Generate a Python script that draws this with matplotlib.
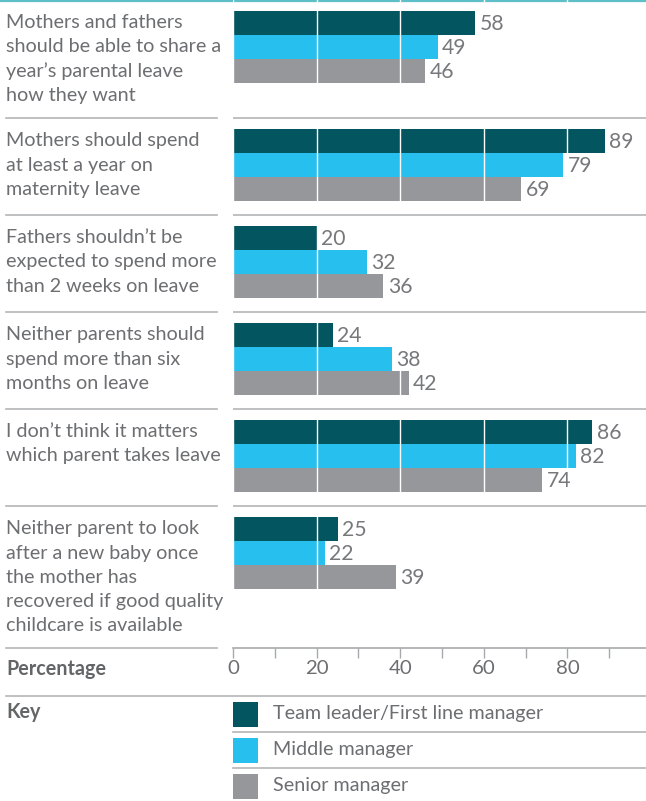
import matplotlib.pyplot as plt
from matplotlib.patches import Rectangle

plt.rcParams['font.family'] = ['Lato', 'DejaVu Sans']

statements = [
    "Mothers and fathers\nshould be able to share a\nyear\u2019s parental leave\nhow they want",
    "Mothers should spend\nat least a year on\nmaternity leave",
    "Fathers shouldn\u2019t be\nexpected to spend more\nthan 2 weeks on leave",
    "Neither parents should\nspend more than six\nmonths on leave",
    "I don\u2019t think it matters\nwhich parent takes leave",
    "Neither parent to look\nafter a new baby once\nthe mother has\nrecovered if good quality\nchildcare is available",
]
team_leader = [58, 89, 20, 24, 86, 25]
middle_manager = [49, 79, 32, 38, 82, 22]
senior_manager = [46, 69, 36, 42, 74, 39]
series = [team_leader, middle_manager, senior_manager]
series_names = ["Team leader/First line manager", "Middle manager", "Senior manager"]
colors = ["#03555F", "#27BFEE", "#96979B"]
major_ticks = [0, 20, 40, 60, 80]
minor_ticks = [10, 30, 50, 70, 90]

text_col = "#6D6E71"
line_col = "#B4B5B7"
fs = 14.2

W, H = 646, 801
x0 = 233          # pixel where 0% sits
px_per_unit = 4.18
axis_y = 648      # pixel row of the scale line

fig = plt.figure(figsize=(W / 100, H / 100), dpi=100)
bg = fig.add_axes([0, 0, 1, 1])
bg.set_xlim(0, W)
bg.set_ylim(H, 0)
bg.axis('off')

ax = fig.add_axes([x0 / W, (H - axis_y) / H, (W - x0) / W, axis_y / H])
ax.patch.set_visible(False)
ax.set_xlim(0, (W - x0) / px_per_unit)
ax.set_ylim(axis_y, 0)
for s in ['top', 'left', 'right']:
    ax.spines[s].set_visible(False)
ax.spines['bottom'].set_color("#A7A9AC")
ax.spines['bottom'].set_linewidth(1.2)
ax.spines['bottom'].set_zorder(4)
ax.set_yticks([])
ax.set_xticks(major_ticks)
ax.set_xticks(minor_ticks, minor=True)
ax.tick_params(axis='x', which='both', direction='out', length=7, width=1,
               color="#A7A9AC", labelcolor=text_col, labelsize=fs + 0.5, pad=2)
ax.set_axisbelow(False)
ax.grid(axis='x', which='major', color='white', linewidth=1.0)

# top rule
bg.plot([0, W], [0.8, 0.8], color="#5DBFC7", lw=1.6, solid_capstyle='butt')

line_h = 24.3
start = 0.0
for i, label in enumerate(statements):
    lines = label.split('\n')
    block = max(97.0, 21 + line_h * len(lines))
    bar_top = start + 11
    for k, ln in enumerate(lines):
        bg.text(6, start + 28 + k * line_h, ln, color=text_col, fontsize=fs,
                va='baseline', ha='left')
    for j, vals in enumerate(series):
        yc = bar_top + 12 + 24 * j
        ax.barh(yc, vals[i], height=24, color=colors[j], zorder=1)
        ax.text(vals[i] + 1.0, yc + 0.5, str(vals[i]), color="#77787B",
                fontsize=fs + 1, va='center', ha='left')
    start += block
    if i < len(statements) - 1:
        bg.plot([6, 217], [start, start], color=line_col, lw=1.2)
        ax.axhline(start, color=line_col, lw=1.2, zorder=3)

# scale row
bg.plot([6, 217], [axis_y, axis_y], color=line_col, lw=1.2)
bg.text(6, 669, "Percentage", color="#646567", fontsize=fs, fontweight='bold',
        va='center')

# key
bg.plot([6, W], [696, 696], color=line_col, lw=1.2)
bg.text(6, 712, "Key", color="#646567", fontsize=fs, fontweight='bold', va='center')
for j, name in enumerate(series_names):
    top = 702 + 36 * j
    bg.add_patch(Rectangle((233, top), 25, 25, color=colors[j], lw=0))
    bg.text(273, top + 11, name, color=text_col, fontsize=fs, va='center')
    if j < 2:
        bg.plot([233, W], [top + 30, top + 30], color=line_col, lw=1.2)

fig.savefig("out.png", dpi=100)
